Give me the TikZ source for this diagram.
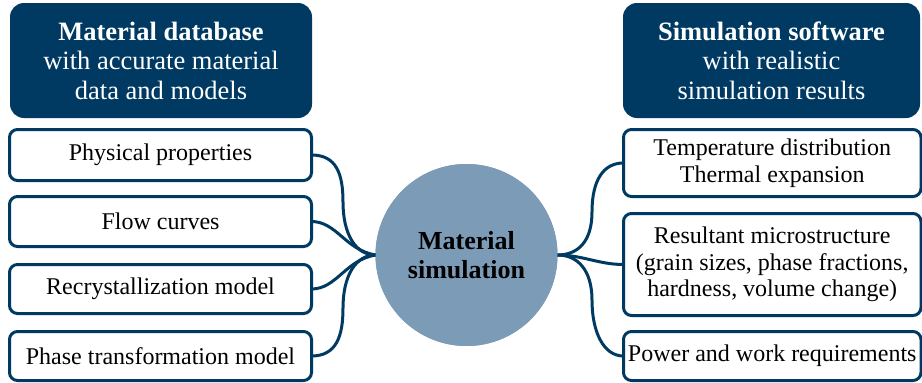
\documentclass[tikz,border=0pt]{standalone}
\usepackage{fontspec}
\setmainfont{Liberation Serif}
\definecolor{navy}{RGB}{0,58,99}
\definecolor{steel}{RGB}{124,155,183}
\tikzset{
  header/.style={rectangle, rounded corners=14pt, fill=navy, text=white,
    inner sep=0pt, outer sep=0pt, align=center,
    font=\fontsize{26.5}{29.5}\selectfont},
  itembox/.style={rectangle, rounded corners=8pt, draw=navy, line width=3pt,
    fill=white, inner sep=0pt, outer sep=0pt, align=center,
    font=\fontsize{24}{26.5}\selectfont},
  hub/.style={circle, fill=steel, minimum size=182pt, inner sep=0pt,
    outer sep=0pt, align=center, font=\bfseries\fontsize{26}{29}\selectfont},
  link/.style={draw=navy, line width=3pt, line cap=round}
}
\begin{document}
\begin{tikzpicture}[x=1pt,y=-1pt]
\useasboundingbox (0,0) rectangle (922,383);

% headers
\node[header, minimum width=302pt, minimum height=115pt] (hl) at (161,60.5)
  {\textbf{Material database}\\with accurate material\\data and models};
\node[header, minimum width=297pt, minimum height=115pt] (hr) at (771.5,60.5)
  {\textbf{Simulation software}\\with realistic\\simulation results};

% left column
\node[itembox, minimum width=302pt, minimum height=51pt] (phys) at (160.5,155) {Physical properties};
\node[itembox, minimum width=302pt, minimum height=50pt] (flow) at (160.5,221.5) {Flow curves};
\node[itembox, minimum width=302pt, minimum height=49pt] (rec) at (160.5,289) {Recrystallization model};
\node[itembox, minimum width=302pt, minimum height=49pt] (pht) at (160.5,356) {Phase transformation model};

% right column
\node[itembox, minimum width=297.5pt, minimum height=67pt] (temp) at (772.25,163)
  {Temperature distribution\\Thermal expansion};
\node[itembox, minimum width=297.5pt, minimum height=102pt] (res) at (772.25,264.5)
  {Resultant microstructure\\(grain sizes, phase fractions,\\hardness, volume change)};
\node[itembox, minimum width=297.5pt, minimum height=49pt] (pow) at (772.25,356)
  {Power and work requirements};

% centre
\node[hub] (circ) at (466.5,255) {Material\\simulation};

% bend points of the long connectors
\coordinate (kp1) at (343,202);
\coordinate (kp4) at (343,308);
\coordinate (kt) at (592,212);
\coordinate (kw) at (592,300);

% connectors, left
\draw[link] (phys.east) .. controls +(25,0) and +(0,-28) .. (kp1)
  .. controls +(0,32) and +(-20,0) .. (circ.west);
\draw[link] (flow.east) .. controls +(25,0) and +(-30,-5) .. (circ.west);
\draw[link] (rec.east) .. controls +(25,0) and +(-30,5) .. (circ.west);
\draw[link] (pht.east) .. controls +(25,0) and +(0,28) .. (kp4)
  .. controls +(0,-32) and +(-20,0) .. (circ.west);

% connectors, right
\draw[link] (circ.east) .. controls +(20,0) and +(0,30) .. (kt)
  .. controls +(0,-32) and +(-20,0) .. (temp.west);
\draw[link] (circ.east) .. controls +(25,0) and +(-25,0) .. (res.west);
\draw[link] (circ.east) .. controls +(20,0) and +(0,-30) .. (kw)
  .. controls +(0,32) and +(-20,0) .. (pow.west);

\node[hub] at (circ) {Material\\simulation};
\end{tikzpicture}
\end{document}
